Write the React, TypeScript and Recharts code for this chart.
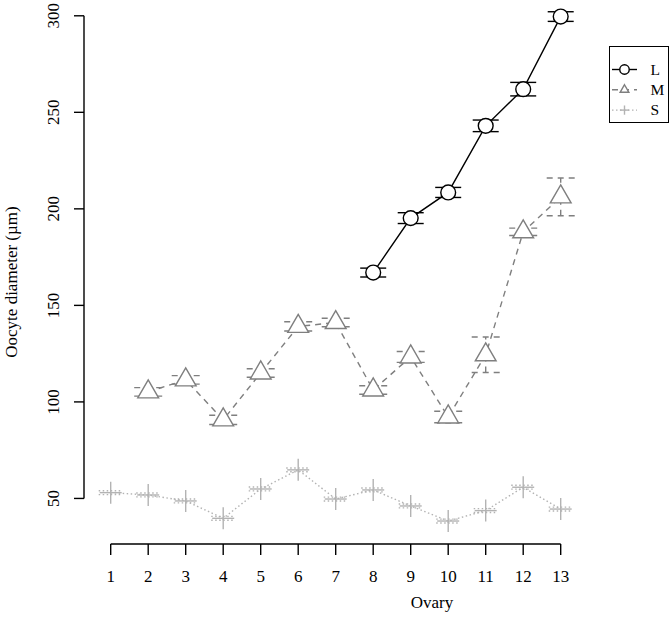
import React from 'react';
import { ComposedChart, Line, XAxis, YAxis, ErrorBar, Legend } from 'recharts';

const OVARIES = [1, 2, 3, 4, 5, 6, 7, 8, 9, 10, 11, 12, 13];
const Y_TICKS = [50, 100, 150, 200, 250, 300];

// L (large oocytes) only measured from ovary 8 on
const L_OVARIES = [8, 9, 10, 11, 12, 13];
const L_MEAN = [167, 195.2, 208.5, 243, 262, 299.6];
const L_ERR = [2.3, 2.8, 2.6, 3, 3.5, 2.5];

const M_OVARIES = [2, 3, 4, 5, 6, 7, 8, 9, 10, 11, 12, 13];
const M_MEAN = [105.2, 111.4, 90.7, 115, 139.1, 141.1, 106.2, 123.3, 92.2, 124.4, 188.1, 206.2];
const M_ERR = [2.2, 2.2, 2.4, 2.2, 2.4, 2.2, 2.2, 2.8, 3, 9.2, 1.9, 9.8];

const S_MEAN = [53, 51.8, 48.7, 39.7, 54.9, 64.8, 49.7, 54.4, 46.1, 38.3, 43.7, 55.8, 44.5];
const S_ERR = [1, 1, 1, 1, 1, 1, 1, 1, 1, 1, 1, 1, 1];

const toRows = (xs: number[], means: number[], errs: number[]) =>
  xs.map((x, i) => ({ ovary: x, mean: means[i], err: errs[i] }));

type Shape = 'circle' | 'triangle' | 'plus';

const SERIES = [
  { name: 'L', rows: toRows(L_OVARIES, L_MEAN, L_ERR), color: '#000000', dash: undefined, shape: 'circle' as Shape, cap: 13 },
  { name: 'M', rows: toRows(M_OVARIES, M_MEAN, M_ERR), color: '#7f7f7f', dash: '6 5', shape: 'triangle' as Shape, cap: 14 },
  { name: 'S', rows: toRows(OVARIES, S_MEAN, S_ERR), color: '#b3b3b3', dash: '1.5 2.5', shape: 'plus' as Shape, cap: 12 },
];

const FONT = '"Liberation Serif", "Times New Roman", serif';

const Marker = ({ cx, cy, shape, color, k = 1 }: { cx: number; cy: number; shape: Shape; color: string; k?: number }) => {
  if (cx == null || cy == null || isNaN(cx) || isNaN(cy)) return null;
  if (shape === 'circle') {
    return <circle cx={cx} cy={cy} r={7.4 * k} fill="#fff" stroke={color} strokeWidth={1.4} />;
  }
  if (shape === 'triangle') {
    const r = 12 * k;
    const hw = 10.4 * k;
    return (
      <polygon
        points={`${cx},${cy - r} ${cx + hw},${cy + r / 2} ${cx - hw},${cy + r / 2}`}
        fill="#fff"
        stroke={color}
        strokeWidth={1.4}
      />
    );
  }
  const h = 11 * k;
  return (
    <g stroke={color} strokeWidth={1.4}>
      <line x1={cx - h} y1={cy} x2={cx + h} y2={cy} />
      <line x1={cx} y1={cy - h} x2={cx} y2={cy + h} />
    </g>
  );
};

const YTick = ({ x, y, payload }: any) => (
  <text x={x} y={y} transform={`rotate(-90 ${x} ${y})`} textAnchor="middle" fontSize={17} fill="#000">
    {payload.value}
  </text>
);

const LegendBox = ({ payload }: any) => {
  const names = SERIES.map((s) => s.name).filter((n) => (payload || []).some((p: any) => p.value === n));
  return (
    <svg width={62} height={78} style={{ display: 'block', fontFamily: FONT }}>
      <rect x={0.5} y={0.5} width={59} height={76} fill="#fff" stroke="#000" strokeWidth={1} />
      {names.map((n, i) => {
        const s = SERIES.find((d) => d.name === n)!;
        const cy = 23.5 + i * 20.3;
        return (
          <g key={n}>
            <line x1={3} y1={cy} x2={28} y2={cy} stroke={s.color} strokeWidth={1.4} strokeDasharray={s.dash} />
            <Marker cx={15.5} cy={cy} shape={s.shape} color={s.color} k={s.shape === 'circle' ? 0.64 : 0.42} />
            <text x={41.5} y={cy + 5.3} fontSize={15.5} fill="#000">
              {n}
            </text>
          </g>
        );
      })}
    </svg>
  );
};

export default function App() {
  const drawOrder = [...SERIES].reverse();
  return (
    <div style={{ width: 672, height: 633, fontFamily: FONT, background: '#fff' }}>
      <style>{'body{margin:0}'}</style>
      <ComposedChart width={672} height={633} margin={{ top: 10, right: 111.3, bottom: 0, left: 0 }}>
        <XAxis
          type="number"
          dataKey="ovary"
          domain={[1, 13]}
          ticks={OVARIES}
          interval={0}
          padding={{ left: 26.7, right: 0 }}
          height={89}
          tickSize={11}
          tickMargin={15}
          axisLine={{ stroke: '#000', strokeWidth: 1.4, strokeDasharray: '0 26.7 450 1000' }}
          tickLine={{ stroke: '#000', strokeWidth: 1.4 }}
          tick={{ fill: '#000', fontSize: 17 }}
          label={(props: any) => (
            <text x={432} y={607.5} textAnchor="middle" fontSize={17} fill="#000">
              Ovary
            </text>
          )}
        />
        <YAxis
          type="number"
          domain={[26.4, 303]}
          ticks={Y_TICKS}
          interval={0}
          width={84}
          tickSize={10}
          tickMargin={15}
          axisLine={{ stroke: '#000', strokeWidth: 1.4, strokeDasharray: '0 5.8 482.6 1000' }}
          tickLine={{ stroke: '#000', strokeWidth: 1.4 }}
          tick={<YTick />}
          label={(props: any) => (
            <text x={16.5} y={282} transform="rotate(-90 16.5 282)" textAnchor="middle" fontSize={17} fill="#000">
              Oocyte diameter (µm)
            </text>
          )}
        />
        <Legend
          layout="horizontal"
          verticalAlign="middle"
          align="center"
          content={<LegendBox />}
          wrapperStyle={{ position: 'absolute', left: 609, top: 46, width: 62, height: 78 }}
        />
        {drawOrder.map((s) => (
          <Line
            key={`${s.name}-line`}
            name={s.name}
            data={s.rows}
            dataKey="mean"
            type="linear"
            stroke={s.color}
            strokeWidth={1.4}
            strokeDasharray={s.dash}
            activeDot={false}
            isAnimationActive={false}
            dot={(p: any) => (
              <Marker key={`${s.name}-dot-${p.index}`} cx={p.cx} cy={p.cy} shape={s.shape} color={s.color} />
            )}
          />
        ))}
        {drawOrder.map((s) => (
          <Line
            key={`${s.name}-err`}
            data={s.rows}
            dataKey="mean"
            stroke="none"
            dot={false}
            activeDot={false}
            legendType="none"
            isAnimationActive={false}
          >
            <ErrorBar
              dataKey="err"
              direction="y"
              width={s.cap}
              stroke={s.color}
              strokeWidth={1.4}
              strokeDasharray={s.dash}
              isAnimationActive={false}
            />
          </Line>
        ))}
      </ComposedChart>
    </div>
  );
}
